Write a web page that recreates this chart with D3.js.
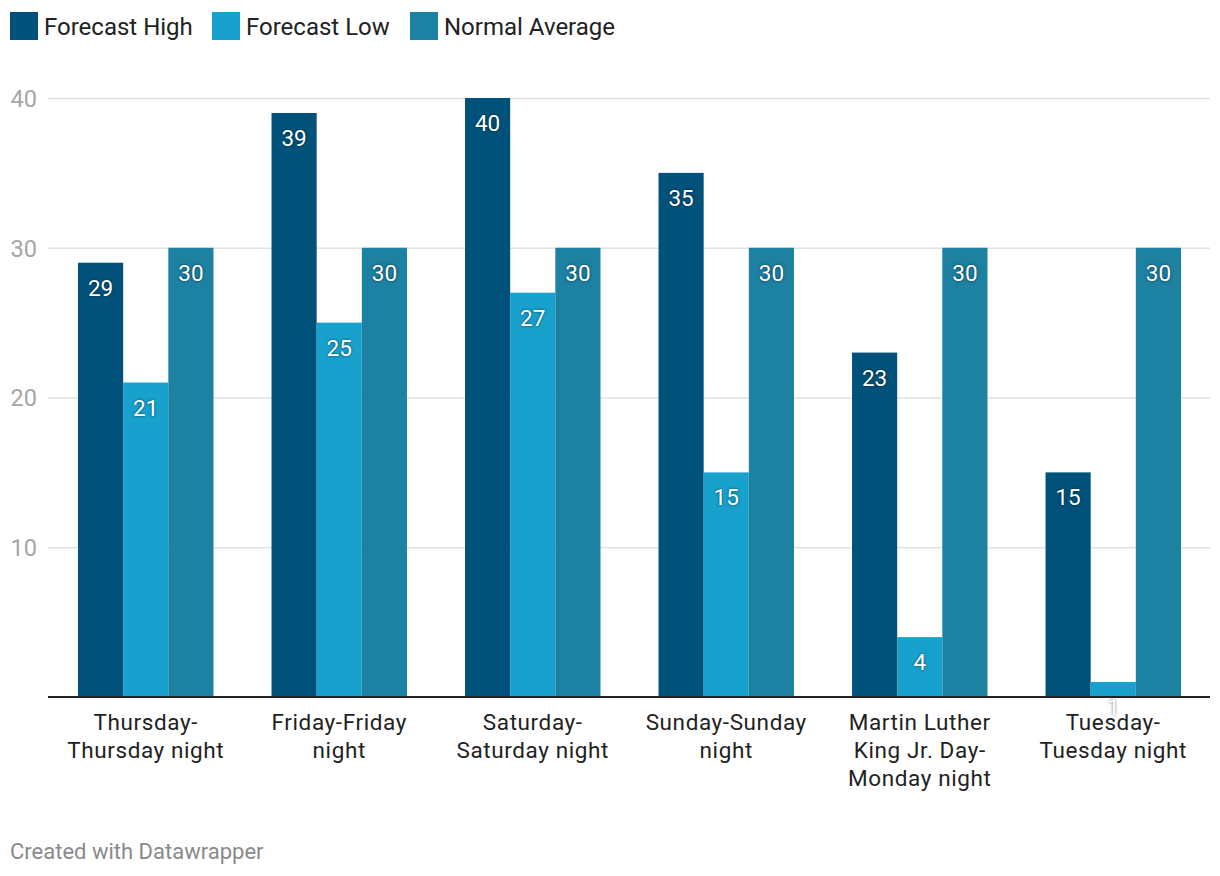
<!DOCTYPE html>
<html>
<head>
<meta charset="utf-8">
<script src="https://cdn.jsdelivr.net/npm/d3@7"></script>
<style>
  body { margin: 0; background: #fff; font-family: Roboto, sans-serif; }
  .val { fill: #fff; text-shadow: 0 0 3px rgba(0,0,0,0.6); }
</style>
</head>
<body>
<svg id="chart"></svg>
<script>
const categories = [
  ['Thursday-', 'Thursday night'],
  ['Friday-Friday', 'night'],
  ['Saturday-', 'Saturday night'],
  ['Sunday-Sunday', 'night'],
  ['Martin Luther', 'King Jr. Day-', 'Monday night'],
  ['Tuesday-', 'Tuesday night']
];
const seriesNames = ['Forecast High', 'Forecast Low', 'Normal Average'];
const forecastHigh = [29, 39, 40, 35, 23, 15];
const forecastLow = [21, 25, 27, 15, 4, 1];
const normalAverage = [30, 30, 30, 30, 30, 30];
const yTicks = [10, 20, 30, 40];
const colors = ['#01527a', '#18a1cd', '#1d81a2'];

const w = 1220, h = 876;
const margin = { top: 98, right: 10, bottom: 179, left: 48 };
const series = [forecastHigh, forecastLow, normalAverage];

const svg = d3.select('#chart').attr('width', w).attr('height', h);

const x0 = d3.scaleBand()
  .domain(d3.range(categories.length))
  .range([margin.left + 1, w - margin.right])
  .paddingInner(0.3)
  .paddingOuter(0.15);
const x1 = d3.scaleBand()
  .domain(d3.range(series.length))
  .range([0, x0.bandwidth()]);
const y = d3.scaleLinear()
  .domain([0, 40])
  .range([h - margin.bottom, margin.top]);

// gridlines + y labels
const yAxis = d3.axisLeft(y).tickValues(yTicks).tickSize(0).tickPadding(0);
svg.append('g')
  .attr('transform', `translate(${margin.left},0)`)
  .call(yAxis)
  .call(g => g.select('.domain').remove())
  .call(g => g.selectAll('.tick line').clone()
    .attr('x2', w - margin.right - margin.left)
    .attr('stroke', '#e2e2e2').attr('stroke-width', 1.5))
  .call(g => g.selectAll('.tick text')
    .attr('x', -11).attr('dy', '0.36em')
    .attr('fill', '#a6a6a6').attr('font-size', 23.5)
    .attr('font-family', 'Roboto'));

// bars
const groups = svg.append('g').selectAll('g')
  .data(categories)
  .join('g')
  .attr('transform', (d, i) => `translate(${x0(i)},0)`);

groups.selectAll('rect')
  .data((d, i) => series.map((s, k) => ({ k, v: s[i] })))
  .join('rect')
  .attr('x', d => x1(d.k))
  .attr('width', x1.bandwidth())
  .attr('y', d => y(d.v))
  .attr('height', d => y(0) - y(d.v))
  .attr('fill', d => colors[d.k]);

groups.selectAll('text.val')
  .data((d, i) => series.map((s, k) => ({ k, v: s[i] })))
  .join('text')
  .attr('class', 'val')
  .attr('x', d => x1(d.k) + x1.bandwidth() / 2)
  .attr('y', d => y(d.v) + 25)
  .attr('dy', '0.36em')
  .attr('text-anchor', 'middle')
  .attr('font-size', 22.5)
  .text(d => d.v);

// baseline
svg.append('line')
  .attr('x1', margin.left).attr('x2', w - margin.right)
  .attr('y1', y(0)).attr('y2', y(0))
  .attr('stroke', '#222').attr('stroke-width', 2);

// x labels
const xl = svg.append('g').selectAll('text')
  .data(categories)
  .join('text')
  .attr('x', (d, i) => x0(i) + x0.bandwidth() / 2)
  .attr('y', y(0) + 25)
  .attr('text-anchor', 'middle')
  .attr('font-size', 22.5)
  .attr('letter-spacing', 0.6)
  .attr('fill', '#222');
xl.selectAll('tspan')
  .data(d => d)
  .join('tspan')
  .attr('x', function () { return this.parentNode.getAttribute('x'); })
  .attr('dy', (d, i) => i === 0 ? '0.36em' : 28)
  .text(d => d);

// legend
const legendX = [10, 212, 410];
const legend = svg.append('g').selectAll('g')
  .data(seriesNames)
  .join('g')
  .attr('transform', (d, i) => `translate(${legendX[i]},12)`);
legend.append('rect')
  .attr('width', 28).attr('height', 28)
  .attr('fill', (d, i) => colors[i]);
legend.append('text')
  .attr('x', 34).attr('y', 14).attr('dy', '0.36em')
  .attr('font-size', 24).attr('fill', '#222')
  .text(d => d);

// footer
svg.append('text')
  .attr('x', 10).attr('y', 851).attr('dy', '0.36em')
  .attr('font-size', 22).attr('fill', '#8a8a8a')
  .text('Created with Datawrapper');
</script>
</body>
</html>
